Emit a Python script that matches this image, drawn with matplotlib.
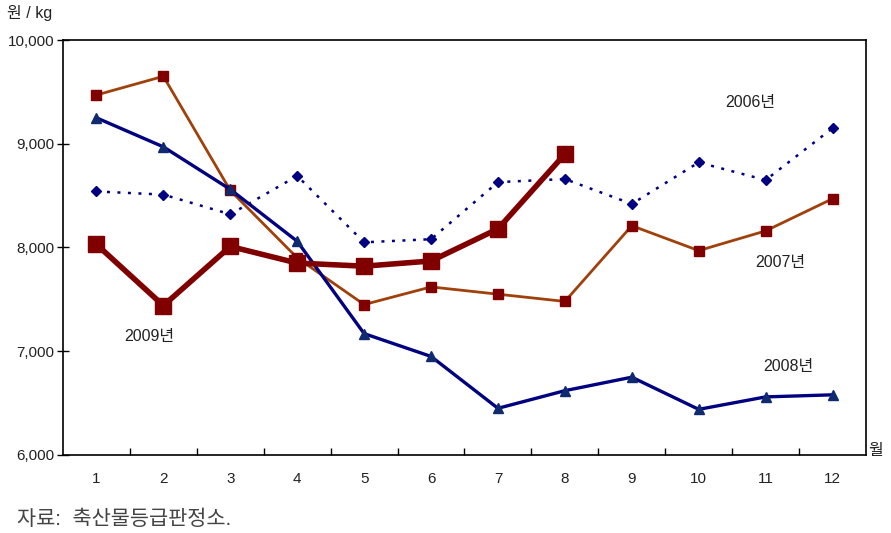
import numpy as np
import matplotlib
matplotlib.use("Agg")
import matplotlib.pyplot as plt
from matplotlib.ticker import FuncFormatter, FixedLocator

plt.rcParams['font.family'] = ['Liberation Sans', 'Noto Sans CJK KR', 'DejaVu Sans']

# -------------------------------------------------
# DATA (원/kg, 월별)
# -------------------------------------------------
months = [1, 2, 3, 4, 5, 6, 7, 8, 9, 10, 11, 12]
y2006 = [8540, 8510, 8320, 8690, 8050, 8080, 8630, 8660, 8420, 8820, 8650, 9150]
y2007 = [9470, 9650, 8550, 7900, 7450, 7620, 7550, 7480, 8210, 7970, 8160, 8470]
y2008 = [9250, 8970, 8560, 8060, 7170, 6950, 6450, 6620, 6750, 6440, 6560, 6580]
months_2009 = [1, 2, 3, 4, 5, 6, 7, 8]
y2009 = [8030, 7440, 8010, 7850, 7820, 7870, 8180, 8900]

W, H = 891, 533

# -------------------------------------------------
# FIGURE
# -------------------------------------------------
fig = plt.figure(figsize=(W / 100, H / 100), dpi=100)
ax = fig.add_axes([63 / W, 1 - 455 / H, (866 - 63) / W, (455 - 40) / H])

ax.plot(months, y2006, color='#000080', lw=1.8, ls=(0, (1.2, 3.0)),
        marker='D', ms=5.5, mfc='#000080', mec='#000080', zorder=3)
ax.plot(months, y2007, color='#A0400A', lw=2.0,
        marker='s', ms=7, mfc='#800000', mec='#800000', zorder=2)
ax.plot(months, y2008, color='#000080', lw=2.4,
        marker='^', ms=7.5, mfc='#0f2a6e', mec='#0f2a6e', zorder=2)
ax.plot(months_2009, y2009, color='#800000', lw=4.0,
        marker='s', ms=12, mfc='#800000', mec='#800000', zorder=4)

ax.set_xlim(0.5, 12.5)
ax.set_ylim(6000, 10000)
ax.set_yticks([6000, 7000, 8000, 9000, 10000])
ax.yaxis.set_major_formatter(FuncFormatter(lambda v, p: f'{int(v):,}'))
ax.set_xticks(months)
ax.xaxis.set_minor_locator(FixedLocator(np.arange(1.5, 12, 1.0)))

ax.tick_params(axis='x', which='major', length=0, pad=12, labelsize=11,
               labelcolor='#222222')
ax.tick_params(axis='x', which='minor', direction='in', length=5, width=1)
ax.tick_params(axis='y', direction='inout', length=8, width=1, pad=2,
               labelsize=11, labelcolor='#222222')

for s in ax.spines.values():
    s.set_linewidth(1.2)
    s.set_color('black')

# -------------------------------------------------
# TEXTS
# -------------------------------------------------
def ftext(px, py, s, **kw):
    fig.text(px / W, 1 - py / H, s, **kw)

ftext(750, 103, '2006년', fontsize=11.5, ha='center', va='center', color='#222222')
ftext(780, 263, '2007년', fontsize=11.5, ha='center', va='center', color='#222222')
ftext(788, 366, '2008년', fontsize=11.5, ha='center', va='center', color='#222222')
ftext(149, 337, '2009년', fontsize=11.5, ha='center', va='center', color='#222222')

ftext(30, 13, '원 / kg', fontsize=11.5, ha='center', va='center', color='#222222')
ftext(876, 451, '월', fontsize=11.5, ha='center', va='center', color='#222222')
ftext(17, 519, '자료:  축산물등급판정소.', fontsize=15, ha='left', va='center',
      color='#444444')

plt.savefig('out.png', dpi=100)
